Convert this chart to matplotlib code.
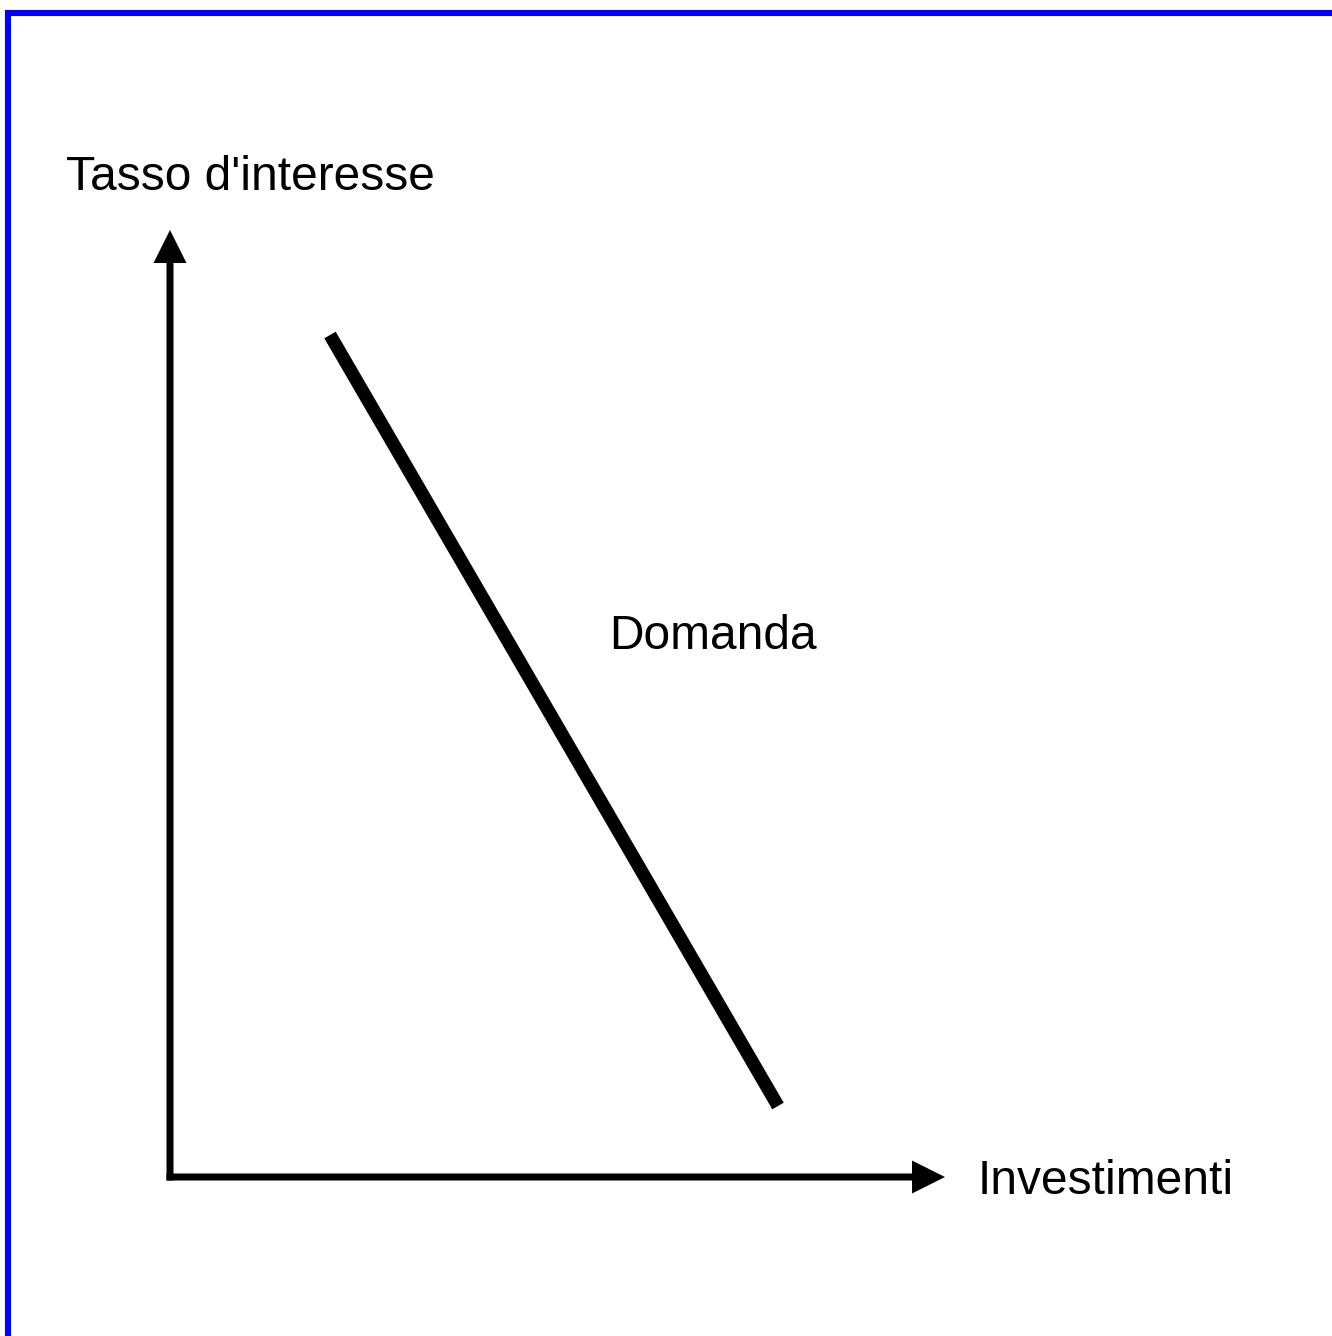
import matplotlib.pyplot as plt

plt.rcParams['font.family'] = ['Liberation Sans', 'DejaVu Sans']

# diagram coordinates (pixel-like units, y grows downward)
origin = (170, 1177)
y_axis_top = 230
x_axis_end = 945
demand_x = [330, 778]
demand_y = [335, 1106]

labels = {
    "Tasso d'interesse": (66, 190),
    "Domanda": (609, 649),
    "Investimenti": (978, 1194),
}

fig = plt.figure(figsize=(13.32, 13.36), dpi=100)
ax = fig.add_axes([0, 0, 1, 1])
ax.set_xlim(0, 1332)
ax.set_ylim(1336, 0)
ax.axis('off')

# blue frame (only top and left edges visible)
ax.plot([5, 1332], [13, 13], color='#0000ff', lw=4.4, solid_capstyle='butt')
ax.plot([8, 8], [10, 1336], color='#0000ff', lw=4.4, solid_capstyle='butt')

# axes arrows
ax.arrow(origin[0], origin[1] + 3.5, 0, y_axis_top - origin[1] - 3.5, width=7,
         head_width=33, head_length=33, length_includes_head=True,
         color='black', lw=0)
ax.arrow(origin[0] - 3.5, origin[1], x_axis_end - origin[0] + 3.5, 0, width=7,
         head_width=33, head_length=33, length_includes_head=True,
         color='black', lw=0)

# demand curve
ax.plot(demand_x, demand_y, color='black', lw=9.5, solid_capstyle='butt')

for txt, (x, y) in labels.items():
    ax.text(x, y, txt, fontsize=34.5, ha='left', va='baseline', color='black')

fig.savefig('out.png', dpi=100, facecolor='white')
